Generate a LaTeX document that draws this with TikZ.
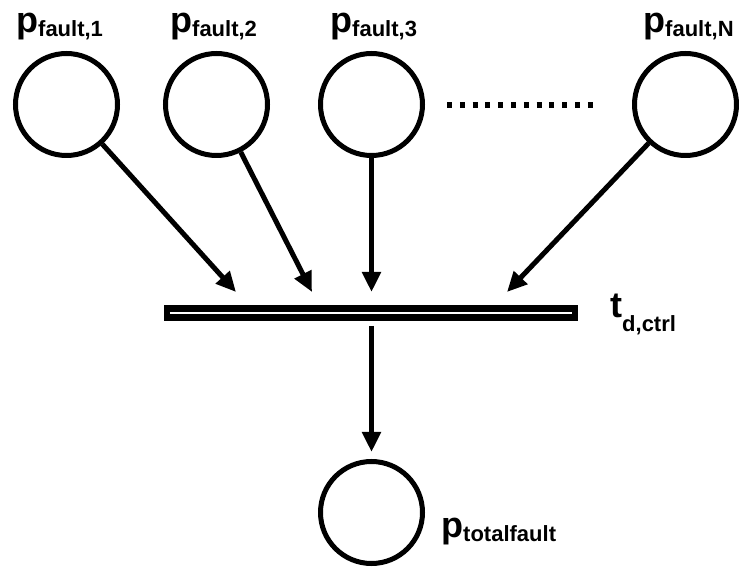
\documentclass[tikz,border=0pt]{standalone}
\usepackage{fontspec}
\setmainfont{Liberation Sans}
\usetikzlibrary{arrows.meta}
\newcommand{\bigp}[1]{{\fontsize{36pt}{36pt}\selectfont\bfseries #1}}
\newcommand{\subp}[2]{\raisebox{#1}{\fontsize{22pt}{22pt}\selectfont\bfseries #2}}
\begin{document}
\begin{tikzpicture}[x=1pt,y=1pt,
  place/.style={circle,draw=black,line width=5pt,minimum size=102pt,inner sep=0pt},
  lbl/.style={inner sep=0pt,anchor=base west},
  arc/.style={line width=5pt,-{Triangle[length=20pt,width=18pt]}},
  bar/.style={rectangle,fill=black,minimum width=414pt,minimum height=16pt,inner sep=0pt}]
\useasboundingbox (0,0) rectangle (739,568);
\node[place] (c1) at (66.5,463.5) {};
\node[place] (c2) at (216.5,463.5) {};
\node[place] (c3) at (371.5,463.5) {};
\node[place] (cN) at (685.5,463.5) {};
\node[place] (cT) at (371.5,55.5) {};
\node[bar] (t) at (371,255) {};
\draw[white,line width=2.5pt] ([xshift=6pt]t.west) -- ([xshift=-6pt]t.east);
\node[lbl] (l1) at (16,535) {\bigp{p}\subp{-4pt}{fault,1}};
\node[lbl] (l2) at (170,535) {\bigp{p}\subp{-4pt}{fault,2}};
\node[lbl] (l3) at (330,535) {\bigp{p}\subp{-4pt}{fault,3}};
\node[lbl] (lN) at (643,535) {\bigp{p}\subp{-4pt}{fault,N}};
\node[lbl] (lt) at (610,250) {\bigp{t}\subp{-14pt}{d,ctrl}};
\node[lbl] (lT) at (441,31) {\bigp{p}\subp{-4pt}{totalfault}};
\coordinate (e1) at (236,276);
\coordinate (e2) at (312,276);
\coordinate (e3) at (371.5,276);
\coordinate (e4) at (507,276);
\coordinate (s5) at (371.5,242);
\draw[arc] (c1) -- (e1);
\draw[arc] (c2) -- (e2);
\draw[arc] (c3) -- (e3);
\draw[arc] (cN) -- (e4);
\draw[arc,shorten >=7pt] (s5) -- (cT);
\coordinate (d1) at (447,463);
\coordinate (d2) at (593,463);
\draw[line width=6pt,dash pattern=on 5pt off 7.8pt] (d1) -- (d2);
\end{tikzpicture}
\end{document}
